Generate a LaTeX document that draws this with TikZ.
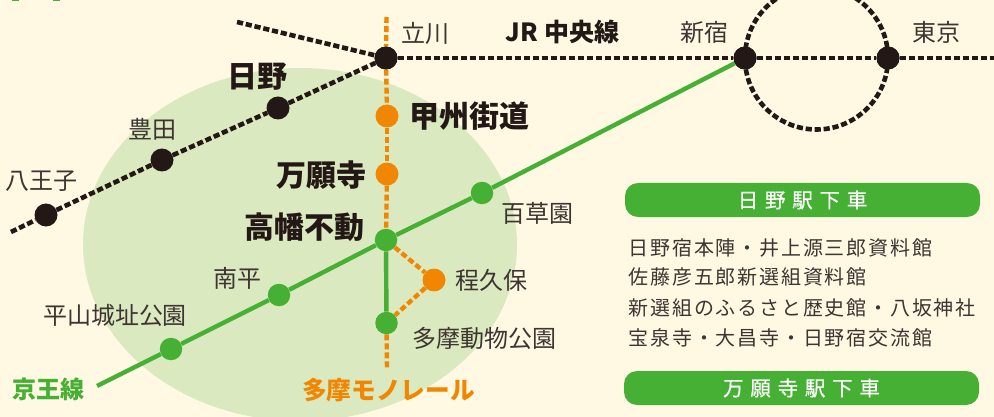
\documentclass[tikz,border=0pt]{standalone}
\usepackage{fontspec}
\setmainfont{Noto Sans CJK JP}
\definecolor{bgc}{HTML}{FFF9E3}
\definecolor{grn}{HTML}{46B035}
\definecolor{area}{HTML}{DAE9BF}
\definecolor{org}{HTML}{F18700}
\definecolor{blk}{HTML}{231815}
\definecolor{txt}{HTML}{3E3532}
\tikzset{
  jr/.style={draw=blk,line width=4.6pt,dash pattern=on 6.2pt off 2.8pt},
  mono/.style={draw=org,line width=4.4pt,dash pattern=on 6pt off 3pt},
  keio/.style={draw=grn,line width=4.4pt},
  st/.style={circle,inner sep=0pt,minimum size=#1},
  stk/.style={st=23pt,fill=blk},
  sto/.style={st=23pt,fill=org},
  stg/.style={st=22.5pt,fill=grn},
  lab/.style={inner sep=0pt,text=txt,font=\fontsize{24}{24}\selectfont},
  big/.style={inner sep=0pt,text=blk,font=\fontsize{30}{30}\selectfont\bfseries},
  ban/.style={draw=none,fill=grn,rounded corners=13pt,minimum width=355pt,minimum height=34pt,inner sep=0pt,text=white,font=\fontsize{20.5}{20.5}\selectfont\addfontfeature{LetterSpace=33,FakeBold=0.4}},
  info/.style={inner sep=0pt,anchor=west,text=txt,font=\fontsize{20}{20}\selectfont\addfontfeature{LetterSpace=9}}
}
\begin{document}
\begin{tikzpicture}[x=1pt,y=-1pt]
\useasboundingbox (0,0) rectangle (994,417);
\clip (0,0) rectangle (994,417);
\fill[bgc] (0,0) rectangle (994,417);
\fill[grn] (12,0) rectangle (19,1.4);
\fill[grn] (53,0) rectangle (60,1.4);
\fill[area] (300,244.5) ellipse [x radius=217, y radius=176.5];
% station positions
\coordinate (loopc) at (816.5,58);
\coordinate (jrw) at (11,232);
\coordinate (jrn) at (237,22);
\coordinate (jre) at (994,58);
\coordinate (mt) at (386.5,17);
\coordinate (mb) at (387,369);
\coordinate (ks) at (97,386);
\node[stk] (tachikawa) at (386,58) {};
\node[stk] (shinjuku) at (745,58) {};
\node[stk] (tokyo) at (888,58) {};
\node[stk] (hino) at (278,108) {};
\node[stk] (toyoda) at (162,160) {};
\node[stk] (hachioji) at (46,215) {};
\node[sto] (koshu) at (387,116) {};
\node[sto] (manganji) at (387,174) {};
\node[sto] (hodokubo) at (434,280) {};
\node[stg] (takahata) at (386,240) {};
\node[stg] (mogusa) at (482,193) {};
\node[stg] (minami) at (279,295) {};
\node[stg] (hirayama) at (171,349) {};
\node[stg] (tama) at (386.5,323) {};
% lines
\draw[jr] (loopc) circle [radius=71.5];
\draw[jr] (jrw) -- (hachioji);
\draw[jr] (hachioji) -- (toyoda);
\draw[jr] (toyoda) -- (hino);
\draw[jr] (hino) -- (tachikawa);
\draw[jr] (jrn) -- (tachikawa);
\draw[jr] (tachikawa) -- (shinjuku);
\draw[jr] (shinjuku) -- (tokyo);
\draw[jr] (tokyo) -- (jre);
\draw[mono] (mt) -- (tachikawa);
\draw[mono] (tachikawa) -- (koshu);
\draw[mono] (koshu) -- (manganji);
\draw[mono] (manganji) -- (takahata);
\draw[mono] (tama) -- (mb);
\draw[mono] (takahata) -- (hodokubo);
\draw[mono] (hodokubo) -- (tama);
\draw[keio] (ks) -- (hirayama);
\draw[keio] (hirayama) -- (minami);
\draw[keio] (minami) -- (takahata);
\draw[keio] (takahata) -- (mogusa);
\draw[keio] (mogusa) -- (shinjuku);
\draw[keio] (takahata) -- (tama);
% redraw station discs over the loop and lines
\fill[blk] (shinjuku) circle [radius=11.5];
\fill[blk] (tokyo) circle [radius=11.5];
\fill[blk] (tachikawa) circle [radius=11.5];
% labels
\node[lab] (l1) at (425,33) {立川};
\node[lab] (l2) at (704.5,32) {新宿};
\node[lab] (l3) at (936,32) {東京};
\node[lab] (l4) at (152,129) {豊田};
\node[lab] (l5) at (41.5,181) {八王子};
\node[lab] (l6) at (537,213) {百草園};
\node[lab] (l7) at (237.5,278) {南平};
\node[lab] (l8) at (115,315) {平山城址公園};
\node[lab] (l9) at (491.5,280) {程久保};
\node[lab] (l10) at (484,338) {多摩動物公園};
\node[big] (b1) at (257,77) {日野};
\node[big] (b2) at (469,116) {甲州街道};
\node[big] (b3) at (321.5,175) {万願寺};
\node[big] (b4) at (304.5,227) {高幡不動};
\node[inner sep=0pt,text=blk,font=\fontsize{25}{25}\selectfont\bfseries] (jc) at (562.5,32) {JR 中央線};
\node[inner sep=0pt,text=grn,font=\fontsize{24}{24}\selectfont\bfseries] (kl) at (48.5,389) {京王線};
\node[inner sep=0pt,text=org,font=\fontsize{24.7}{24.7}\selectfont\bfseries] (ml) at (388.5,390) {多摩モノレール};
\node[ban] (h1) at (802.5,200) {日野駅下車};
\node[ban] (h2) at (801.5,388) {万願寺駅下車};
\node[info] (t1) at (628.5,248) {日野宿本陣・井上源三郎資料館};
\node[info] (t2) at (628.5,277) {佐藤彦五郎新選組資料館};
\node[info] (t3) at (628.5,308) {新選組のふるさと歴史館・八坂神社};
\node[info] (t4) at (628.5,338) {宝泉寺・大昌寺・日野宿交流館};
\end{tikzpicture}
\end{document}
